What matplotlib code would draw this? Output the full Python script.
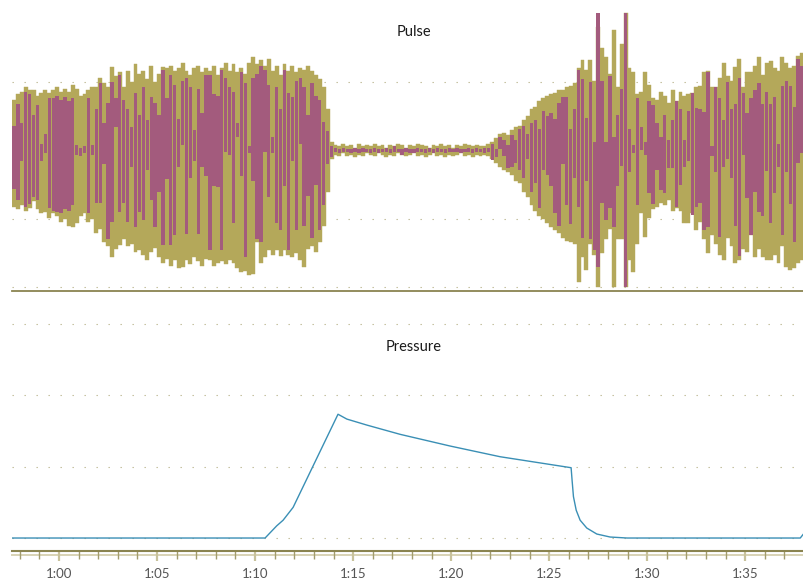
import numpy as np
import matplotlib
matplotlib.use('Agg')
import matplotlib.pyplot as plt
from matplotlib.ticker import FixedLocator, MultipleLocator

plt.rcParams['font.family'] = ['Lato', 'DejaVu Sans']

# pulse: one bar per 0.2 s sample, envelope (olive) and signal range (mauve)
sample_t0 = 57.6
sample_dt = 0.2

olive_top = [
    37, 41, 43, 46, 44, 44, 40, 42, 44, 42,
    44, 46, 43, 45, 43, 48, 45, 40, 41, 44,
    46, 46, 53, 49, 46, 61, 54, 57, 46, 58,
    50, 63, 56, 58, 52, 62, 50, 56, 61, 60,
    62, 58, 60, 64, 58, 55, 60, 62, 57, 60,
    58, 62, 55, 60, 64, 58, 63, 57, 60, 56,
    64, 68, 63, 66, 62, 67, 58, 62, 55, 63,
    58, 62, 57, 60, 59, 62, 58, 55, 52, 46,
    30, 6, 4, 3, 5, 3, 4, 2, 5, 3,
    4, 3, 5, 3, 4, 2, 4, 3, 5, 4,
    2, 4, 3, 5, 4, 3, 2, 4, 3, 5,
    3, 4, 2, 4, 3, 5, 4, 3, 4, 3,
    3, 5, 6, 9, 12, 13, 11, 15, 17, 18,
    22, 25, 30, 32, 36, 38, 40, 41, 42, 44,
    44, 46, 47, 49, 60, 66, 59, 66, 51, 90,
    75, 68, 56, 88, 46, 78, 100, 60, 57, 41,
    43, 57, 48, 38, 37, 43, 40, 35, 44, 36,
    43, 40, 41, 42, 46, 47, 57, 58, 46, 46,
    53, 64, 54, 51, 61, 67, 46, 57, 57, 62,
    68, 55, 64, 65, 60, 58, 68, 64, 60, 62,
    69, 71,
]
olive_bot = [
    -41, -43, -40, -44, -42, -37, -43, -46, -45, -49,
    -46, -48, -52, -50, -55, -56, -53, -48, -46, -52,
    -50, -60, -57, -67, -70, -78, -72, -69, -65, -70,
    -68, -74, -73, -76, -80, -74, -71, -78, -82, -79,
    -84, -80, -86, -85, -80, -83, -78, -81, -84, -79,
    -80, -84, -82, -81, -83, -80, -82, -86, -89, -88,
    -91, -90, -67, -82, -78, -73, -76, -73, -77, -73,
    -76, -78, -75, -80, -85, -72, -70, -74, -67, -55,
    -30, -6, -3, -4, -2, -4, -3, -5, -3, -4,
    -2, -3, -4, -2, -3, -5, -3, -4, -2, -3,
    -4, -3, -2, -4, -3, -5, -3, -2, -4, -3,
    -5, -3, -4, -3, -2, -4, -3, -5, -3, -4,
    -3, -4, -6, -9, -12, -14, -16, -18, -22, -24,
    -30, -34, -40, -44, -48, -50, -53, -56, -58, -60,
    -64, -66, -67, -68, -96, -78, -87, -68, -76, -100,
    -75, -65, -57, -100, -65, -65, -100, -80, -89, -68,
    -46, -63, -49, -43, -41, -38, -40, -36, -44, -42,
    -44, -53, -53, -46, -58, -52, -65, -75, -62, -68,
    -76, -80, -64, -70, -82, -80, -72, -74, -62, -78,
    -72, -78, -80, -80, -76, -82, -70, -85, -87, -86,
    -82, -80,
]
mauve_top = [
    18, 34, 20, 43, 41, 26, 33, 5, 12, 38,
    38, 40, 37, 39, 36, 38, 4, 2, 3, 38,
    4, 30, 49, 20, 35, 50, 38, 55, 37, 30,
    17, 42, 26, 46, 22, 39, 35, 26, 59, 38,
    55, 48, 23, 51, 53, 46, 15, 45, 27, 55,
    55, 41, 40, 59, 53, 46, 43, 20, 57, 49,
    3, 53, 56, 62, 59, 48, 10, 46, 30, 59,
    42, 39, 51, 53, 46, 26, 49, 40, 37, 21,
    14, 3, 2, 1, 2, 1, 1, 2, 1, 2,
    1, 1, 2, 1, 1, 2, 1, 3, 1, 1,
    2, 1, 1, 2, 1, 1, 2, 1, 2, 1,
    1, 2, 1, 2, 1, 1, 2, 1, 2, 1,
    2, 2, 5, 1, 10, 8, 4, 11, 8, 16,
    18, 12, 20, 22, 16, 29, 25, 27, 23, 35,
    39, 39, 16, 30, 59, 52, 24, 50, 6, 100,
    51, 6, 54, 10, 26, 45, 100, 16, 4, 38,
    17, 6, 36, 33, 20, 10, 26, 8, 22, 36,
    30, 8, 29, 42, 31, 30, 28, 57, 3, 46,
    38, 22, 50, 30, 34, 53, 42, 27, 38, 44,
    49, 34, 43, 34, 39, 5, 47, 51, 47, 32,
    67, 62,
]
mauve_bot = [
    -28, -36, -8, -41, -39, -34, -36, -8, -2, -42,
    -44, -45, -46, -43, -44, -40, -3, -4, -2, -46,
    -3, -38, -38, -10, -65, -52, 17, -45, -38, -52,
    -12, -56, -45, -51, -14, -36, -56, -30, -69, -21,
    -69, -62, -12, 4, -61, -20, -8, -61, -12, -19,
    -73, -26, -27, -73, -1, -3, -53, 10, -19, -78,
    -2, -22, -65, -67, -1, -34, -2, -53, -58, -26,
    -73, -8, -58, 5, -55, -33, -64, -25, -58, -40,
    -10, -5, -1, -2, -1, -1, -2, -1, -2, -1,
    -1, -2, -1, -2, -1, -1, -2, -1, -1, -3,
    -1, -2, -2, -1, -1, -2, -1, -2, -1, -1,
    -2, -1, -1, -1, -2, -1, -1, -2, -1, -1,
    -2, -1, -7, -5, 1, -4, -13, -12, -9, -14,
    -20, -6, -30, -24, -42, -14, -18, -26, -46, -55,
    -10, -40, -54, -20, -41, -64, -22, -65, -73, -85,
    -38, -51, -42, -56, -26, -11, -100, -16, -2, -40,
    0, -3, -31, -39, -14, -29, -31, -13, -13, -41,
    -25, -12, -8, -47, -41, -38, -58, -56, -4, -16,
    -63, -12, -6, -20, -55, -77, -3, -35, -62, -30,
    -45, -48, -15, -53, -31, -12, -62, -16, -39, -67,
    -9, -2,
]

# pressure trace (seconds, units)
press_t = [57.6, 70.51, 71.1, 71.43, 71.94, 74.23, 74.68, 75.7, 77.4, 79.95,
           82.5, 86.12, 86.17, 86.24, 86.38, 86.58, 86.92, 87.43, 88.11, 88.98,
           97.81, 98.01]
press_v = [0, 0, 8.5, 12.5, 21.5, 86.8, 83.4, 79.2, 72.7, 64.5,
           57, 49.3, 40.5, 29, 19.5, 12.5, 7, 2.8, 0.7, 0,
           0, 3.5]

tick_pos = [60, 65, 70, 75, 80, 85, 90, 95]
tick_lab = ['1:00', '1:05', '1:10', '1:15', '1:20', '1:25', '1:30', '1:35']

olive = '#b4a85a'
mauve = '#a35b7d'
blue = '#3a8fb5'
axis_c = '#8a8450'
grid_c = '#bdb892'

t = sample_t0 + sample_dt * np.arange(len(olive_top))
o_top = np.array(olive_top)
o_bot = np.array(olive_bot)
m_top = np.array(mauve_top)
m_bot = np.array(mauve_bot)

fig = plt.figure(figsize=(8.04, 5.81), dpi=100)
ax1 = fig.add_axes([12 / 804, 1 - 291 / 581, 792 / 804, 283 / 581])
ax2 = fig.add_axes([12 / 804, 1 - 551 / 581, 792 / 804, 251 / 581])

# Pulse
for v in [-100, -50, 0, 50]:
    ax1.axhline(v, color=grid_c, lw=0.8, dashes=(1.2, 9.6), zorder=0)
ax1.bar(t, o_top - o_bot, bottom=o_bot, width=sample_dt, align='edge',
        color=olive, edgecolor=olive, linewidth=0.3, zorder=2)
ax1.bar(t + sample_dt / 2, m_top - m_bot, bottom=m_bot, width=sample_dt * 0.85,
        align='center', color=mauve, linewidth=0, zorder=3)
ax1.set_xlim(57.6, 98.0)
ax1.set_ylim(-102.6, 104)
for s in ['top', 'left', 'right']:
    ax1.spines[s].set_visible(False)
ax1.spines['bottom'].set_color(axis_c)
ax1.spines['bottom'].set_linewidth(1.3)
ax1.set_xticks([])
ax1.set_yticks([])

# Pressure
for v in [0, 50, 100, 150]:
    ax2.axhline(v, color=grid_c, lw=0.8, dashes=(1.2, 9.6), zorder=0)
ax2.plot(press_t, press_v, color=blue, lw=1.0, zorder=3)
ax2.set_xlim(57.6, 98.0)
ax2.set_ylim(-9.1, 166.9)
for s in ['top', 'left', 'right']:
    ax2.spines[s].set_visible(False)
ax2.spines['bottom'].set_color(axis_c)
ax2.spines['bottom'].set_linewidth(1.5)
ax2.set_yticks([])
ax2.xaxis.set_major_locator(FixedLocator(tick_pos))
ax2.set_xticklabels(tick_lab)
ax2.xaxis.set_minor_locator(MultipleLocator(1))
ax2.tick_params(axis='x', which='major', length=7, width=1.6, color='#c8c29c',
                labelsize=9.5, labelcolor='#555555', pad=5)
ax2.tick_params(axis='x', which='minor', length=5.5, width=1.0, color='#a29c6e')
ax2.plot([0, 1], [-4 / 251, -4 / 251], transform=ax2.transAxes,
         color='#d8d3b6', lw=1.4, clip_on=False, zorder=1)

fig.text(414 / 804, 1 - 32 / 581, 'Pulse', ha='center', va='center',
         fontsize=10.5, color='#1a1a1a')
fig.text(414 / 804, 1 - 347 / 581, 'Pressure', ha='center', va='center',
         fontsize=10.5, color='#1a1a1a')

fig.savefig('out.png', dpi=100)
